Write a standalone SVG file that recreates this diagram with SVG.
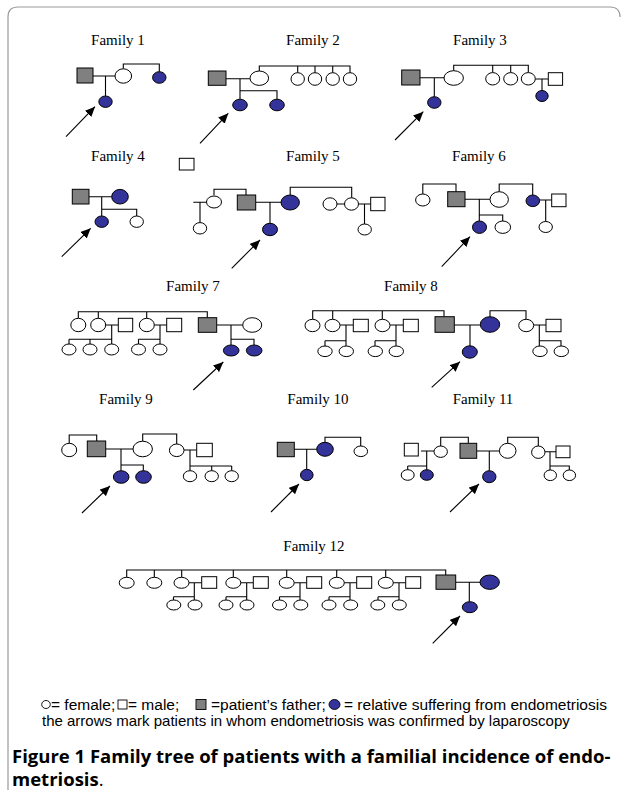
<svg xmlns="http://www.w3.org/2000/svg" width="626" height="791" viewBox="0 0 626 791">
<style>
.w{fill:#fff;stroke:#000;stroke-width:1}
.g{fill:#808080;stroke:#000;stroke-width:1}
.b{fill:#333399;stroke:#000;stroke-width:1}
.ln{fill:none;stroke:#000;stroke-width:1.1}
.ar{fill:none;stroke:#000;stroke-width:1.1;marker-end:url(#ah)}
.t{font-family:"Liberation Serif","Times New Roman",serif;font-size:15px;text-anchor:middle;fill:#000}
.lg{font-family:"Liberation Sans",Arial,sans-serif;font-size:15px;fill:#000}
.lg1{font-family:"Liberation Sans",Arial,sans-serif;font-size:15.5px;fill:#000}
.cap{font-family:"Open Sans","Liberation Sans",sans-serif;font-size:18.5px;font-weight:bold;fill:#000}
</style>
<defs>
<marker id="ah" markerUnits="userSpaceOnUse" markerWidth="11" markerHeight="9" refX="10" refY="4.5" orient="auto">
<path d="M0,0 L10,4.5 L0,9 Z" fill="#000"/>
</marker>
</defs>
<rect width="626" height="791" fill="#fff"/>
<path d="M8,790 V17 Q8,7 18,7 H610 Q620,7 620,17" fill="none" stroke="#9a9a9a" stroke-width="1.2"/>

<g id="titles">
<text class="t" x="118" y="45">Family 1</text>
<text class="t" x="313" y="45">Family 2</text>
<text class="t" x="480" y="45">Family 3</text>
<text class="t" x="118" y="161">Family 4</text>
<text class="t" x="313" y="161">Family 5</text>
<text class="t" x="479" y="161">Family 6</text>
<text class="t" x="193" y="291">Family 7</text>
<text class="t" x="411" y="291">Family 8</text>
<text class="t" x="126" y="404">Family 9</text>
<text class="t" x="318" y="404">Family 10</text>
<text class="t" x="483" y="404">Family 11</text>
<text class="t" x="314" y="551">Family 12</text>
</g>

<g id="connectors">
<!-- Family 1 -->
<path class="ln" d="M93,76 H115 M105.5,76 V96 M123.3,68.8 V64 H159.3 V71.7"/>
<path class="ar" d="M66,136.7 L95,106.7"/>
<!-- Family 2 -->
<path class="ln" d="M226,78.7 H250 M259.3,71 V66 H350 V72.7 M297.7,66 V72.7 M315,66 V72.7 M332.7,66 V72.7 M240,78.7 V99.2 M240,90.7 H277 V99.2"/>
<path class="ar" d="M200,143.3 L228.3,113.3"/>
<!-- Family 3 -->
<path class="ln" d="M420,77.7 H444 M434.3,77.7 V96.7 M453.7,70.7 V65.3 H528.3 V72.6 M492.7,65.3 V72.6 M510.7,65.3 V72.6 M535.3,79 H548.3 M542,79 V90.5"/>
<path class="ar" d="M395,140 L423.3,111.7"/>
<!-- Family 4 -->
<path class="ln" d="M89,196.7 H111.7 M101.7,196.7 V216 M101.7,209.3 H136.7 V216"/>
<path class="ar" d="M61.7,256.7 L90.7,228.3"/>
<!-- Family 5 -->
<path class="ln" d="M193.3,202.3 H206.5 M200,202.3 V222.7 M214,195.3 V189.3 H246 V195 M255.7,202.3 H281 M290.2,195 V187.3 H351.7 V198 M337,204 H344.5 M358.5,204 H370.7 M364.5,204 V224 M270,202.3 V223.3"/>
<path class="ar" d="M231.7,268.3 L260,240"/>
<!-- Family 6 -->
<path class="ln" d="M422.8,194 V184 H456 V191.7 M465,199.3 H490 M499.2,191.7 V184 H532.7 V195 M539.6,200 H551.7 M545.7,200 V221.5 M479.3,199.3 V221 M479.3,215 H502.7 V221"/>
<path class="ar" d="M441.7,266.7 L470,236.7"/>
<!-- Family 7 -->
<path class="ln" d="M78.3,318.3 V311.7 H207.3 V317.7 M98.3,311.7 V318.3 M146.7,311.7 V318.3 M105.7,325 H118.3 M111.7,325 V344 M69,339.3 H111.7 M69,339.3 V344 M90,339.3 V344 M154.3,325 H166.7 M160,325 V344 M138.5,339.3 H160 M138.5,339.3 V344 M216.7,325 H242.7 M231,325 V345 M231,339.3 H254 V345"/>
<path class="ar" d="M193.3,390 L223.3,362"/>
<!-- Family 8 -->
<path class="ln" d="M312.7,319.3 V310.7 H444 V316.7 M332.7,310.7 V319.3 M382.3,310.7 V319.3 M340,325 H353.3 M346,325 V346 M325,340.7 H346 M325,340.7 V346 M390,325 H403.3 M396,325 V346 M375,340.7 H396 M375,340.7 V346 M454.3,325 H480.3 M490,316.7 V310.7 H526 V319.3 M533.7,325 H546 M539.3,325 V346 M539.3,340.7 H561 V346 M470,325 V346"/>
<path class="ar" d="M431.7,387.3 L460,361.7"/>
<!-- Family 9 -->
<path class="ln" d="M69.2,443.3 V435 H96.7 V441 M105.7,449 H133 M142.7,441.2 V434 H176.7 V444 M184,450 H196.7 M190,450 V470.7 M190,466 H231.7 M211.7,466 V470.7 M231.7,466 V470.7 M121,449 V470.7 M121,465 H143.3 V470.7"/>
<path class="ar" d="M82,513 L110,486"/>
<!-- Family 10 -->
<path class="ln" d="M294.3,449.3 H316.7 M325,442.3 V437.3 H360.7 V446 M306.7,449.3 V469.3"/>
<path class="ar" d="M271,512 L299,484"/>
<!-- Family 11 -->
<path class="ln" d="M421,451 H434 M440.7,446 V437.3 H468.3 V443.3 M476.7,451 H499.4 M507.7,443.3 V437.3 H538.3 V446 M545,451.7 H556 M550,451.7 V470 M550,466 H569.3 V470 M426.7,451 V470 M407.7,466 H426.7 M407.7,466 V470 M489.3,451 V470.7"/>
<path class="ar" d="M450,512 L479,484"/>
<!-- Family 12 -->
<path class="ln" d="M126.7,577.3 V570 H445.7 V575 M154.3,570 V577.3 M181.7,570 V577.3 M233.3,570 V577.3 M286.7,570 V577.3 M336.7,570 V577.3 M385.7,570 V577.3 M189,582.7 H201.7 M240.8,582.7 H253.3 M294.2,582.7 H306.7 M344.2,582.7 H356.7 M393.2,582.7 H405.7 M194.3,582.7 V600 M173.5,596.7 H194.3 M173.5,596.7 V600 M246.7,582.7 V600 M226,596.7 H246.7 M226,596.7 V600 M300,582.7 V600 M279.5,596.7 H300 M279.5,596.7 V600 M350,582.7 V600 M329,596.7 H350 M329,596.7 V600 M399,582.7 V600 M378,596.7 H399 M378,596.7 V600 M455.7,582.3 H480 M469.3,582.3 V601.7"/>
<path class="ar" d="M432.7,643.3 L460,616"/>
</g>

<!-- Family 1 -->
<g id="f1-father"><rect class="g" x="77" y="68" width="16" height="15"/></g>
<g id="f1-mother"><ellipse class="w" cx="123.3" cy="76" rx="8.3" ry="7.2"/></g>
<g id="f1-aunt"><ellipse class="b" cx="159.3" cy="77.5" rx="6.7" ry="5.8"/></g>
<g id="f1-patient"><ellipse class="b" cx="105.5" cy="101.7" rx="6.7" ry="5.7"/></g>

<!-- Family 2 -->
<g id="f2-father"><rect class="g" x="208.3" y="71" width="17.7" height="14.3"/></g>
<g id="f2-mother"><ellipse class="w" cx="259.3" cy="78.2" rx="9.3" ry="7.2"/></g>
<g id="f2-sib1"><ellipse class="w" cx="297.7" cy="79" rx="6.7" ry="6.3"/></g>
<g id="f2-sib2"><ellipse class="w" cx="315" cy="79" rx="6.7" ry="6.3"/></g>
<g id="f2-sib3"><ellipse class="w" cx="332.7" cy="79" rx="6.7" ry="6.3"/></g>
<g id="f2-sib4"><ellipse class="w" cx="350" cy="79" rx="6.7" ry="6.3"/></g>
<g id="f2-patient"><ellipse class="b" cx="240" cy="105" rx="7.3" ry="5.8"/></g>
<g id="f2-sister"><ellipse class="b" cx="277" cy="105" rx="7.3" ry="5.8"/></g>

<!-- Family 3 -->
<g id="f3-father"><rect class="g" x="401.7" y="70" width="18.3" height="15"/></g>
<g id="f3-mother"><ellipse class="w" cx="453.7" cy="78" rx="9.7" ry="7.3"/></g>
<g id="f3-sib1"><ellipse class="w" cx="492.7" cy="78.8" rx="7" ry="6.2"/></g>
<g id="f3-sib2"><ellipse class="w" cx="510.7" cy="78.8" rx="7" ry="6.2"/></g>
<g id="f3-sib3"><ellipse class="w" cx="528.3" cy="78.8" rx="7" ry="6.2"/></g>
<g id="f3-sib3-husband"><rect class="w" x="548.3" y="72.7" width="14.3" height="12.6"/></g>
<g id="f3-cousin"><ellipse class="b" cx="542" cy="96" rx="6.2" ry="5.5"/></g>
<g id="f3-patient"><ellipse class="b" cx="434.3" cy="102.5" rx="6.7" ry="5.8"/></g>

<!-- Family 4 -->
<g id="f4-square"><rect class="w" x="179.3" y="158.3" width="14.7" height="11.7"/></g>
<g id="f4-father"><rect class="g" x="72.3" y="189.3" width="16.7" height="14.7"/></g>
<g id="f4-mother"><ellipse class="b" cx="120" cy="196.7" rx="8.3" ry="7.3"/></g>
<g id="f4-patient"><ellipse class="b" cx="101.7" cy="221.7" rx="6.7" ry="5.7"/></g>
<g id="f4-sister"><ellipse class="w" cx="136.7" cy="221.7" rx="6.7" ry="5.7"/></g>

<!-- Family 5 -->
<g id="f5-aunt"><ellipse class="w" cx="214" cy="202" rx="7.5" ry="6"/></g>
<g id="f5-cousin"><ellipse class="w" cx="200" cy="228.3" rx="6.7" ry="5.7"/></g>
<g id="f5-father"><rect class="g" x="237.3" y="195" width="18.4" height="15"/></g>
<g id="f5-mother"><ellipse class="b" cx="290.2" cy="202.5" rx="9.2" ry="7.5"/></g>
<g id="f5-sib1"><ellipse class="w" cx="330" cy="204" rx="7" ry="6.2"/></g>
<g id="f5-sib2"><ellipse class="w" cx="351.5" cy="204" rx="7" ry="6.2"/></g>
<g id="f5-sib2-husband"><rect class="w" x="370.7" y="197.3" width="14.3" height="13.4"/></g>
<g id="f5-cousin2"><ellipse class="w" cx="364.7" cy="229.5" rx="6.7" ry="5.5"/></g>
<g id="f5-patient"><ellipse class="b" cx="270" cy="229.5" rx="7.5" ry="6.2"/></g>

<!-- Family 6 -->
<g id="f6-aunt"><ellipse class="w" cx="422.8" cy="200" rx="7.2" ry="6"/></g>
<g id="f6-father"><rect class="g" x="447.7" y="191.7" width="17.3" height="15"/></g>
<g id="f6-mother"><ellipse class="w" cx="499.2" cy="199.5" rx="9.2" ry="7.8"/></g>
<g id="f6-maunt"><ellipse class="b" cx="532.8" cy="200.8" rx="6.8" ry="5.8"/></g>
<g id="f6-maunt-husband"><rect class="w" x="551.7" y="194" width="14.3" height="12.7"/></g>
<g id="f6-cousin"><ellipse class="w" cx="545.7" cy="227" rx="6.7" ry="5.5"/></g>
<g id="f6-patient"><ellipse class="b" cx="479.5" cy="227.2" rx="7" ry="6.2"/></g>
<g id="f6-sister"><ellipse class="w" cx="502.8" cy="227.2" rx="7.8" ry="6.2"/></g>

<!-- Family 7 -->
<g id="f7-a1"><ellipse class="w" cx="78.3" cy="325" rx="7.5" ry="6.7"/></g>
<g id="f7-a2"><ellipse class="w" cx="98.2" cy="325" rx="7.5" ry="6.7"/></g>
<g id="f7-a2-husband"><rect class="w" x="118.3" y="318.3" width="14.4" height="13.4"/></g>
<g id="f7-c1"><ellipse class="w" cx="69" cy="349.5" rx="7" ry="5.5"/></g>
<g id="f7-c2"><ellipse class="w" cx="90" cy="349.5" rx="7" ry="5.5"/></g>
<g id="f7-c3"><ellipse class="w" cx="111.7" cy="349.5" rx="7" ry="5.5"/></g>
<g id="f7-a3"><ellipse class="w" cx="146.8" cy="325" rx="7.5" ry="6.7"/></g>
<g id="f7-a3-husband"><rect class="w" x="166.7" y="318.3" width="15" height="13.4"/></g>
<g id="f7-c4"><ellipse class="w" cx="138.5" cy="349.5" rx="7" ry="5.5"/></g>
<g id="f7-c5"><ellipse class="w" cx="160" cy="349.5" rx="7" ry="5.5"/></g>
<g id="f7-father"><rect class="g" x="198.3" y="317.7" width="18.4" height="14.6"/></g>
<g id="f7-mother"><ellipse class="w" cx="252.2" cy="325" rx="9.5" ry="7.3"/></g>
<g id="f7-patient"><ellipse class="b" cx="231.2" cy="350.5" rx="7.8" ry="5.5"/></g>
<g id="f7-sister"><ellipse class="b" cx="254.2" cy="350.5" rx="7.8" ry="5.5"/></g>

<!-- Family 8 -->
<g id="f8-a1"><ellipse class="w" cx="312.5" cy="325.5" rx="7.5" ry="6.2"/></g>
<g id="f8-a2"><ellipse class="w" cx="332.5" cy="325.5" rx="7.5" ry="6.2"/></g>
<g id="f8-a2-husband"><rect class="w" x="353.3" y="319.3" width="15" height="12.4"/></g>
<g id="f8-c1"><ellipse class="w" cx="325" cy="351.3" rx="7.2" ry="5.3"/></g>
<g id="f8-c2"><ellipse class="w" cx="346.3" cy="351.3" rx="7.2" ry="5.3"/></g>
<g id="f8-a3"><ellipse class="w" cx="382.5" cy="325.5" rx="7.5" ry="6.2"/></g>
<g id="f8-a3-husband"><rect class="w" x="403.3" y="319.3" width="15" height="12.4"/></g>
<g id="f8-c3"><ellipse class="w" cx="375.3" cy="351.3" rx="7.2" ry="5.3"/></g>
<g id="f8-c4"><ellipse class="w" cx="396.3" cy="351.3" rx="7.2" ry="5.3"/></g>
<g id="f8-father"><rect class="g" x="435" y="316.7" width="19.3" height="15.6"/></g>
<g id="f8-mother"><ellipse class="b" cx="490" cy="324.5" rx="9.7" ry="7.8"/></g>
<g id="f8-maunt"><ellipse class="w" cx="526.2" cy="325.5" rx="7.5" ry="6.2"/></g>
<g id="f8-maunt-husband"><rect class="w" x="546" y="319.3" width="15" height="12.4"/></g>
<g id="f8-c5"><ellipse class="w" cx="540" cy="351.3" rx="7.2" ry="5.3"/></g>
<g id="f8-c6"><ellipse class="w" cx="561.3" cy="351.3" rx="7.2" ry="5.3"/></g>
<g id="f8-patient"><ellipse class="b" cx="469.8" cy="352" rx="7.5" ry="6.2"/></g>

<!-- Family 9 -->
<g id="f9-aunt"><ellipse class="w" cx="69.2" cy="450" rx="7.5" ry="6.7"/></g>
<g id="f9-father"><rect class="g" x="87.3" y="441" width="18.4" height="15.7"/></g>
<g id="f9-mother"><ellipse class="w" cx="142.7" cy="449" rx="9.7" ry="7.8"/></g>
<g id="f9-maunt"><ellipse class="w" cx="176.7" cy="450.3" rx="7.3" ry="6.3"/></g>
<g id="f9-maunt-husband"><rect class="w" x="196.7" y="443.3" width="15.6" height="13.4"/></g>
<g id="f9-c1"><ellipse class="w" cx="190" cy="476.2" rx="6.7" ry="5.5"/></g>
<g id="f9-c2"><ellipse class="w" cx="211.7" cy="476.2" rx="6.7" ry="5.5"/></g>
<g id="f9-c3"><ellipse class="w" cx="231.7" cy="476.2" rx="6.7" ry="5.5"/></g>
<g id="f9-patient"><ellipse class="b" cx="121.2" cy="477" rx="7.8" ry="6.3"/></g>
<g id="f9-sister"><ellipse class="b" cx="143.5" cy="477" rx="7.8" ry="6.3"/></g>

<!-- Family 10 -->
<g id="f10-father"><rect class="g" x="277.3" y="442.3" width="17" height="14.4"/></g>
<g id="f10-mother"><ellipse class="b" cx="325" cy="449.3" rx="8.3" ry="7"/></g>
<g id="f10-maunt"><ellipse class="w" cx="360.8" cy="451.3" rx="6.8" ry="5.3"/></g>
<g id="f10-patient"><ellipse class="b" cx="306.8" cy="475" rx="6.3" ry="5.7"/></g>

<!-- Family 11 -->
<g id="f11-uncle-in-law"><rect class="w" x="404.3" y="443.3" width="14" height="12.7"/></g>
<g id="f11-aunt"><ellipse class="w" cx="440.7" cy="451.7" rx="6.7" ry="5.7"/></g>
<g id="f11-c1"><ellipse class="w" cx="407.7" cy="475" rx="6.5" ry="5.3"/></g>
<g id="f11-c2"><ellipse class="b" cx="426.8" cy="475" rx="6.5" ry="5.3"/></g>
<g id="f11-father"><rect class="g" x="460" y="443.3" width="16.7" height="15"/></g>
<g id="f11-mother"><ellipse class="w" cx="507.7" cy="450.8" rx="8.3" ry="7.5"/></g>
<g id="f11-maunt"><ellipse class="w" cx="538.3" cy="452.2" rx="6.7" ry="6.2"/></g>
<g id="f11-maunt-husband"><rect class="w" x="556" y="446" width="14" height="11.7"/></g>
<g id="f11-c3"><ellipse class="w" cx="550.3" cy="475.3" rx="6.2" ry="5.3"/></g>
<g id="f11-c4"><ellipse class="w" cx="569.4" cy="475.3" rx="6.2" ry="5.3"/></g>
<g id="f11-patient"><ellipse class="b" cx="489.3" cy="476.7" rx="6.7" ry="6"/></g>

<!-- Family 12 -->
<g id="f12-a1"><ellipse class="w" cx="126.7" cy="582.8" rx="7.5" ry="5.5"/></g>
<g id="f12-a2"><ellipse class="w" cx="154.3" cy="582.8" rx="7.5" ry="5.5"/></g>
<g id="f12-a3"><ellipse class="w" cx="181.5" cy="582.8" rx="7.5" ry="5.5"/></g>
<g id="f12-a3-husband"><rect class="w" x="201.7" y="576.7" width="15" height="11.6"/></g>
<g id="f12-c1"><ellipse class="w" cx="173.8" cy="605" rx="7" ry="5"/></g>
<g id="f12-c2"><ellipse class="w" cx="195" cy="605" rx="7" ry="5"/></g>
<g id="f12-a4"><ellipse class="w" cx="233.3" cy="582.8" rx="7.5" ry="5.5"/></g>
<g id="f12-a4-husband"><rect class="w" x="253.3" y="576.7" width="15" height="11.6"/></g>
<g id="f12-c3"><ellipse class="w" cx="226" cy="605" rx="7" ry="5"/></g>
<g id="f12-c4"><ellipse class="w" cx="247" cy="605" rx="7" ry="5"/></g>
<g id="f12-a5"><ellipse class="w" cx="286.7" cy="582.8" rx="7.5" ry="5.5"/></g>
<g id="f12-a5-husband"><rect class="w" x="306.7" y="576.7" width="15" height="11.6"/></g>
<g id="f12-c5"><ellipse class="w" cx="279.5" cy="605" rx="7" ry="5"/></g>
<g id="f12-c6"><ellipse class="w" cx="300.8" cy="605" rx="7" ry="5"/></g>
<g id="f12-a6"><ellipse class="w" cx="336.8" cy="582.8" rx="7.5" ry="5.5"/></g>
<g id="f12-a6-husband"><rect class="w" x="356.7" y="576.7" width="15" height="11.6"/></g>
<g id="f12-c7"><ellipse class="w" cx="329" cy="605" rx="7" ry="5"/></g>
<g id="f12-c8"><ellipse class="w" cx="350.7" cy="605" rx="7" ry="5"/></g>
<g id="f12-a7"><ellipse class="w" cx="385.8" cy="582.8" rx="7.5" ry="5.5"/></g>
<g id="f12-a7-husband"><rect class="w" x="405.7" y="576.7" width="15" height="11.6"/></g>
<g id="f12-c9"><ellipse class="w" cx="377.8" cy="605" rx="7" ry="5"/></g>
<g id="f12-c10"><ellipse class="w" cx="399.3" cy="605" rx="7" ry="5"/></g>
<g id="f12-father"><rect class="g" x="436" y="575" width="19.7" height="14.3"/></g>
<g id="f12-mother"><ellipse class="b" cx="489.7" cy="582.2" rx="9.7" ry="7.2"/></g>
<g id="f12-patient"><ellipse class="b" cx="469.8" cy="607.2" rx="7.5" ry="5.5"/></g>

<g id="legend">
<ellipse cx="46" cy="704.5" rx="4.3" ry="4" fill="#fff" stroke="#000" stroke-width="0.9"/>
<text class="lg1" x="51" y="709.5">= female;</text>
<rect x="118" y="700" width="9" height="9" fill="#fff" stroke="#000" stroke-width="0.9"/>
<text class="lg1" x="128" y="709.5">= male;</text>
<rect x="196" y="699.5" width="10" height="10" fill="#808080" stroke="#000" stroke-width="0.9"/>
<text class="lg1" x="211" y="709.5">=patient’s father;</text>
<ellipse cx="334.5" cy="704.5" rx="5.5" ry="5" fill="#333399" stroke="#000" stroke-width="0.9"/>
<text class="lg1" x="344" y="709.5">= relative suffering from endometriosis</text>
<text class="lg" x="42" y="726">the arrows mark patients in whom endometriosis was confirmed by laparoscopy</text>
</g>

<g id="caption">
<text class="cap" x="12" y="763">Figure 1 Family tree of patients with a familial incidence of endo-</text>
<text class="cap" x="12" y="786">metriosis<tspan font-weight="normal">.</tspan></text>
</g>
</svg>
